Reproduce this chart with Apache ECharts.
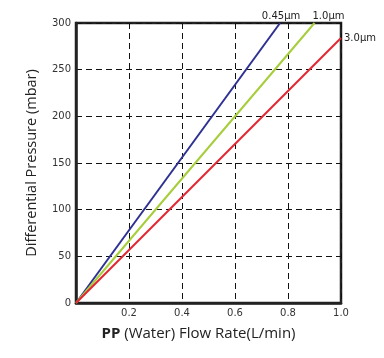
<!DOCTYPE html>
<html><head><meta charset="utf-8">
<script src="https://cdn.jsdelivr.net/npm/echarts@6/dist/echarts.min.js"></script>
<style>html,body{margin:0;padding:0;background:#fff}#c{width:384px;height:358px}</style>
</head><body><div id="c"></div>
<script>
const seriesNames = ['0.45μm', '1.0μm', '3.0μm'];
const flow045 = [0, 0.77];
const dp045 = [0, 300];
const flow10 = [0, 0.9];
const dp10 = [0, 300];
const flow30 = [0, 1.0];
const dp30 = [0, 284];
const colors = ['#2e3192', '#a6cd3a', '#e32530'];
const xTicks = [0, 0.2, 0.4, 0.6, 0.8, 1.0];
const yTicks = [0, 50, 100, 150, 200, 250, 300];

const labelCfg = [
  {position: 'top', offset: [1, 1]},
  {position: 'top', offset: [14, 1]},
  {position: 'right', offset: [0, 0]}
];
function build(xs, ys, i) {
  return xs.map((x, k) => {
    const item = {value: [x, ys[k]]};
    if (k === xs.length - 1) {
      item.label = Object.assign({show: true, formatter: seriesNames[i], color: '#222',
        fontSize: 10, fontFamily: 'DejaVu Sans', distance: 3}, labelCfg[i]);
    }
    return item;
  });
}
const chart = echarts.init(document.getElementById('c'));
chart.setOption({
  animation: false,
  grid: {left: 76, right: 43, top: 23, bottom: 55, show: true, borderColor: '#222', borderWidth: 2.5},
  xAxis: {
    type: 'value', min: 0, max: 1, interval: 0.2,
    name: '{b|PP} (Water) Flow Rate(L/min)', nameLocation: 'middle', nameGap: 23,
    nameTextStyle: {fontSize: 15, color: '#222', fontFamily: 'Open Sans', padding: [0, 20, 0, 0],
      rich: {b: {fontWeight: 'bold', fontSize: 15, fontFamily: 'Open Sans', color: '#222'}}},
    axisLine: {show: true, lineStyle: {color: '#222', width: 2.5}},
    axisTick: {show: false},
    axisLabel: {color: '#333', fontSize: 10, fontFamily: 'DejaVu Sans', margin: 5,
      formatter: v => v === 0 ? '' : v.toFixed(1)},
    splitLine: {show: true, lineStyle: {color: '#111', type: [6, 4], width: 1}}
  },
  yAxis: {
    type: 'value', min: 0, max: 300, interval: 50,
    name: 'Differential Pressure (mbar)', nameLocation: 'middle', nameGap: 37,
    nameTextStyle: {fontSize: 14.5, color: '#222', fontFamily: 'Open Sans'},
    axisLine: {show: true, lineStyle: {color: '#222', width: 2.5}},
    axisTick: {show: false},
    axisLabel: {color: '#333', fontSize: 10, fontFamily: 'DejaVu Sans', margin: 5},
    splitLine: {show: true, lineStyle: {color: '#111', type: [6, 4], width: 1}}
  },
  series: [0, 1, 2].map(i => ({
    type: 'line', name: seriesNames[i],
    data: build([flow045, flow10, flow30][i], [dp045, dp10, dp30][i], i),
    symbol: 'circle', symbolSize: 0, showSymbol: true,
    lineStyle: {color: colors[i], width: 2}, itemStyle: {color: colors[i]}
  }))
});
</script></body></html>
